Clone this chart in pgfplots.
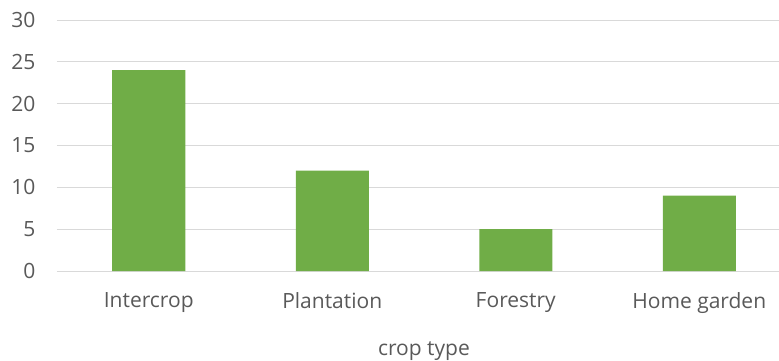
\documentclass[border=0pt]{standalone}
\usepackage{pgfplots}
\pgfplotsset{compat=1.18}
\usepackage{fontspec}
\setmainfont{Open Sans}
\definecolor{bargreen}{HTML}{70AD47}
\definecolor{gridgray}{HTML}{D9D9D9}
\definecolor{txtgray}{HTML}{595959}
\begin{document}
\begin{tikzpicture}[x=1pt,y=1pt]
\path[use as bounding box] (-57,-89) rectangle (722,271);
\begin{axis}[
  at={(0,0)}, anchor=south west,
  scale only axis, width=734pt, height=251pt,
  xmin=-0.5, xmax=3.5, ymin=0, ymax=30,
  ytick={0,5,...,30},
  xtick=data,
  xticklabels={Intercrop,Plantation,Forestry,Home garden},
  axis line style={draw=none},
  ymajorgrids, grid style={gridgray, line width=1pt},
  major tick length=0pt,
  tick label style={font=\fontsize{21}{23}\selectfont, text=txtgray},
  /pgf/number format/assume math mode=true,
  yticklabel style={xshift=-18pt},
  xticklabel style={yshift=-18pt},
  xlabel={crop type},
  xlabel style={font=\fontsize{21}{23}\selectfont, text=txtgray, yshift=-21pt},
  clip=false,
]
\addplot[ybar, bar width=73pt, fill=bargreen, draw=none] coordinates {(0,24) (1,12) (2,5) (3,9)};
\end{axis}
\end{tikzpicture}
\end{document}
